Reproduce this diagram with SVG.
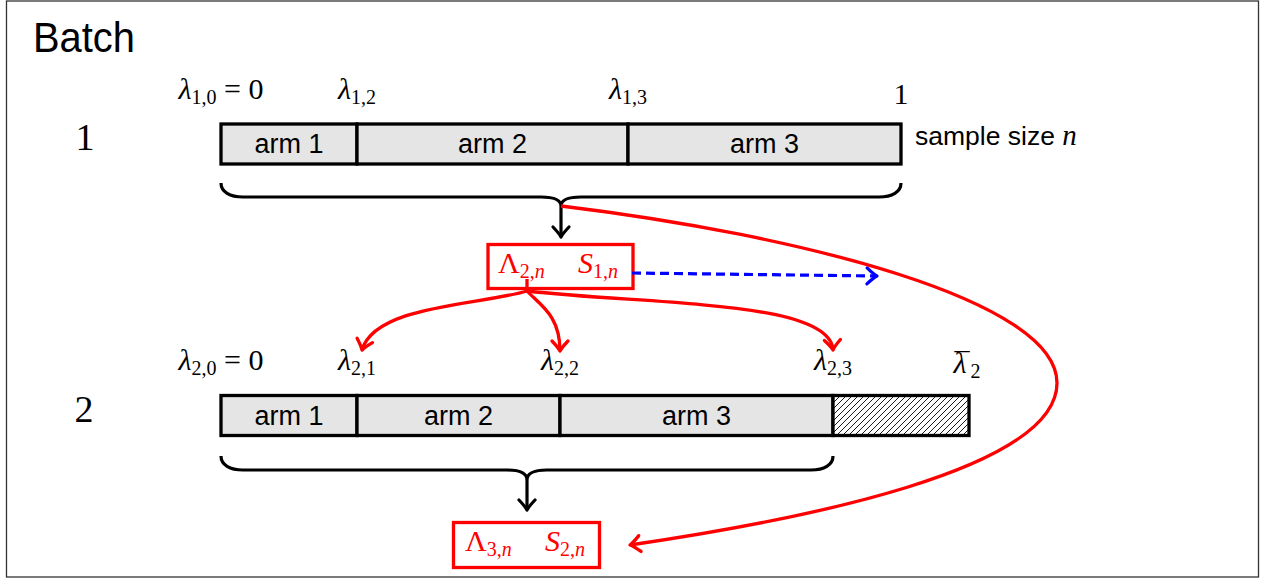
<svg xmlns="http://www.w3.org/2000/svg" width="1265" height="580" viewBox="0 0 1265 580">
<style>
.sans{font-family:"Liberation Sans",Arial,sans-serif;fill:#000}
.rm{font-family:"Liberation Serif","Times New Roman",serif;fill:#000}
.m{font-family:"Liberation Serif","Times New Roman",serif;font-size:30px;fill:#000}
.it{font-style:italic}
.sub{font-size:20px}
.red{fill:#ff0000}
.seg{fill:#e5e5e5;stroke:#000;stroke-width:3.3}
.arm{font-family:"Liberation Sans",Arial,sans-serif;font-size:27px;text-anchor:middle;fill:#000}
.box{fill:#fff;stroke:#ff0000;stroke-width:3.3}
.brace{fill:none;stroke:#000;stroke-width:3.2}
.rarr{fill:none;stroke:#ff0000;stroke-width:3.3}
</style>
<defs>
<pattern id="hatch" patternUnits="userSpaceOnUse" width="6" height="6">
<rect width="6" height="6" fill="#fff"/>
<path d="M-1,1 L1,-1 M0,6 L6,0 M5,7 L7,5" stroke="#000" stroke-width="0.9"/>
</pattern>
<marker id="ab" markerUnits="userSpaceOnUse" viewBox="-14 -14 28 28" markerWidth="28" markerHeight="28" refX="0" refY="0" orient="auto" overflow="visible">
<path d="M-10,-8 Q-3.5,-1.8 0,0 Q-3.5,1.8 -10,8" fill="none" stroke="#000" stroke-width="3.2" stroke-linecap="round" stroke-linejoin="round"/>
</marker>
<marker id="ar" markerUnits="userSpaceOnUse" viewBox="-14 -14 28 28" markerWidth="28" markerHeight="28" refX="0" refY="0" orient="auto" overflow="visible">
<path d="M-10,-8 Q-3.5,-1.8 0,0 Q-3.5,1.8 -10,8" fill="none" stroke="#ff0000" stroke-width="3.3" stroke-linecap="round" stroke-linejoin="round"/>
</marker>
<marker id="abl" markerUnits="userSpaceOnUse" viewBox="-14 -14 28 28" markerWidth="28" markerHeight="28" refX="0" refY="0" orient="auto" overflow="visible">
<path d="M-10,-8 Q-3.5,-1.8 0,0 Q-3.5,1.8 -10,8" fill="none" stroke="#0000ff" stroke-width="3.2" stroke-linecap="round" stroke-linejoin="round"/>
</marker>
</defs>
<rect x="0" y="0" width="1265" height="580" fill="#fff"/>
<rect x="6.5" y="1" width="1252" height="576" fill="none" stroke="#333" stroke-width="1.3"/>

<g id="title"><text class="sans" x="33" y="52" font-size="42" textLength="102" lengthAdjust="spacingAndGlyphs">Batch</text></g>

<g id="row1-label"><text class="rm" x="85" y="150" font-size="38" text-anchor="middle">1</text></g>
<g id="row2-label"><text class="rm" x="84" y="422" font-size="38" text-anchor="middle">2</text></g>

<g id="bar1">
<rect class="seg" x="221" y="124" width="136" height="40"/>
<rect class="seg" x="357" y="124" width="271" height="40"/>
<rect class="seg" x="628" y="124" width="273" height="40"/>
<text class="arm" x="289" y="153">arm 1</text>
<text class="arm" x="492.5" y="153">arm 2</text>
<text class="arm" x="764.5" y="153">arm 3</text>
<text class="sans" x="915" y="145" font-size="26.5">sample size <tspan class="rm it" font-size="29">n</tspan></text>
</g>

<g id="labels1">
<text class="m" x="221" y="99" text-anchor="middle"><tspan class="it">λ</tspan><tspan class="sub" dy="5">1,0</tspan><tspan dy="-5"> = 0</tspan></text>
<text class="m" x="357" y="99" text-anchor="middle"><tspan class="it">λ</tspan><tspan class="sub" dy="5">1,2</tspan></text>
<text class="m" x="628" y="99" text-anchor="middle"><tspan class="it">λ</tspan><tspan class="sub" dy="5">1,3</tspan></text>
<text class="m" x="901" y="104" text-anchor="middle">1</text>
</g>

<g id="bar2">
<rect class="seg" x="221" y="395.5" width="136" height="40"/>
<rect class="seg" x="357" y="395.5" width="203" height="40"/>
<rect class="seg" x="560" y="395.5" width="273" height="40"/>
<rect x="833" y="395.5" width="136" height="40" fill="url(#hatch)" stroke="#000" stroke-width="3.3"/>
<text class="arm" x="289" y="424.5">arm 1</text>
<text class="arm" x="458.5" y="424.5">arm 2</text>
<text class="arm" x="696.5" y="424.5">arm 3</text>
</g>

<g id="labels2">
<text class="m" x="221" y="370" text-anchor="middle"><tspan class="it">λ</tspan><tspan class="sub" dy="5">2,0</tspan><tspan dy="-5"> = 0</tspan></text>
<text class="m" x="357" y="370" text-anchor="middle"><tspan class="it">λ</tspan><tspan class="sub" dy="5">2,1</tspan></text>
<text class="m" x="560" y="370" text-anchor="middle"><tspan class="it">λ</tspan><tspan class="sub" dy="5">2,2</tspan></text>
<text class="m" x="833" y="370" text-anchor="middle"><tspan class="it">λ</tspan><tspan class="sub" dy="5">2,3</tspan></text>
<text class="m" x="967" y="373" text-anchor="middle"><tspan class="it">λ</tspan><tspan dx="-12">¯</tspan><tspan class="sub" dx="1" dy="5">2</tspan></text>
</g>

<g id="box1">
<rect class="box" x="488" y="244.5" width="145" height="44"/>
<text class="m red" x="498" y="273">Λ<tspan class="sub" dy="5">2,</tspan><tspan class="sub it">n</tspan></text>
<text class="m red" x="578" y="273"><tspan class="it">S</tspan><tspan class="sub" dy="5">1,</tspan><tspan class="sub it">n</tspan></text>
</g>

<g id="box2">
<rect class="box" x="453.5" y="522.5" width="146" height="45"/>
<text class="m red" x="465" y="551">Λ<tspan class="sub" dy="5">3,</tspan><tspan class="sub it">n</tspan></text>
<text class="m red" x="545" y="551"><tspan class="it">S</tspan><tspan class="sub" dy="5">2,</tspan><tspan class="sub it">n</tspan></text>
</g>

<g id="connectors">
<path class="brace" d="M221,183 C221,192 230,197 243,197 L541,197 C552,197 561,199 561,206 C561,199 570,197 581,197 L879,197 C892,197 901,192 901,183"/>
<path class="brace" d="M561,206 L561,237" marker-end="url(#ab)"/>
<path class="brace" d="M221,456 C221,465 230,470 243,470 L507,470 C518,470 527,472 527,480 C527,472 536,470 547,470 L811,470 C824,470 833,465 833,456"/>
<path class="brace" d="M527,480 L527,510" marker-end="url(#ab)"/>
<path class="rarr" d="M527,279 L527,291 C480,305 375,305 362,350" marker-end="url(#ar)"/>
<path class="rarr" d="M527,291 C540,305 560,315 560,351" marker-end="url(#ar)"/>
<path class="rarr" d="M527,291 C650,305 830,300 833,350" marker-end="url(#ar)"/>
<path class="rarr" d="M561,206 C800,235 1057,300 1057,383 C1057,470 800,520 630,545" marker-end="url(#ar)"/>
<path d="M632,273 L877,276" fill="none" stroke="#0000ff" stroke-width="3.2" stroke-dasharray="9 5" marker-end="url(#abl)"/>
</g>
</svg>
